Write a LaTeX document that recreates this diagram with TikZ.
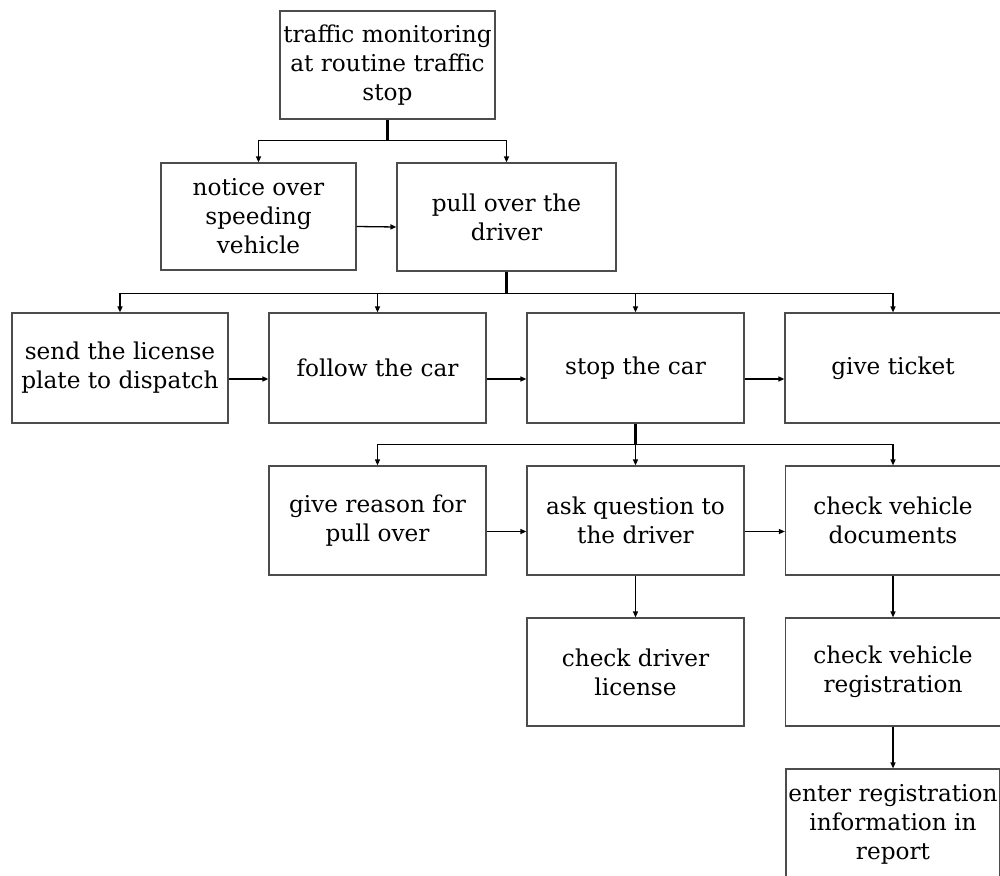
\documentclass[tikz,border=0pt]{standalone}
\usepackage{fontspec}
\setmainfont{DejaVu Serif}
\usetikzlibrary{arrows.meta,shadows}
\begin{document}
\begin{tikzpicture}[x=1pt,y=-1pt,
  font=\fontsize{23.2}{29}\selectfont,
  box/.style={draw=black!70, line width=1.2pt, fill=white, align=center,
    inner sep=2pt, minimum width=217pt, minimum height=109pt,
    drop shadow={shadow xshift=1.2pt, shadow yshift=-1.4pt, opacity=0.3, fill=black!70}},
  flow/.style={line width=1.3pt, -{Triangle[length=6pt,width=5pt]}},
  stub/.style={line width=2.8pt}]
\useasboundingbox (0,0) rectangle (1000,875);
\clip (0,0) rectangle (1000,875);

% boxes
\node[box, minimum width=215pt, minimum height=108pt] (top) at (387.5,65)
  {traffic monitoring\\at routine traffic\\stop};
\node[box, minimum width=195pt, minimum height=107pt] (notice) at (258.5,216.5)
  {notice over\\speeding\\vehicle};
\node[box, minimum width=219pt, minimum height=108pt] (pull) at (506.5,217)
  {pull over the\\driver};

\node[box, minimum width=216pt, minimum height=110pt] (send) at (120,368)
  {send the license\\plate to dispatch};
\node[box, minimum height=110pt] (follow) at (377.5,368) {follow the car};
\node[box, minimum height=110pt] (stop) at (635.5,368) {stop the car};
\node[box, minimum width=216pt, minimum height=110pt] (ticket) at (893,368) {give ticket};

\node[box] (reason) at (377.5,520.5) {give reason for\\pull over};
\node[box] (ask) at (635.5,520.5) {ask question to\\the driver};
\node[box, minimum width=215pt] (docs) at (893,520.5) {check vehicle\\documents};

\node[box, minimum height=108pt] (drvlic) at (635.5,672) {check driver\\license};
\node[box, minimum width=215pt, minimum height=108pt] (reg) at (893,672)
  {check vehicle\\registration};
\node[box, minimum width=214pt, minimum height=110pt] (enter) at (893,824)
  {enter registration\\information in\\report};

% branching from the first box
\path (top.south) ++(0,21) coordinate (j1);
\draw[stub] (top.south) -- (j1);
\draw[flow] (j1) -| (notice.north);
\draw[flow] (j1) -| (pull.north);
\draw[flow] ([yshift=-10pt]notice.east) -- ([yshift=-10pt]pull.west);

% branching from "pull over the driver"
\path (pull.south) ++(0,22) coordinate (j2);
\draw[stub] (pull.south) -- (j2);
\draw[flow] (j2) -| (send.north);
\draw[flow] (j2) -| (follow.north);
\draw[flow] (j2) -| (stop.north);
\draw[flow] (j2) -| (ticket.north);
\draw[flow] ([yshift=-11pt]send.east) -- ([yshift=-11pt]follow.west);
\draw[flow] ([yshift=-11pt]follow.east) -- ([yshift=-11pt]stop.west);
\draw[flow] ([yshift=-11pt]stop.east) -- ([yshift=-11pt]ticket.west);

% branching from "stop the car"
\path (stop.south) ++(0,21) coordinate (j3);
\draw[stub] (stop.south) -- (j3);
\draw[flow] (j3) -| (reason.north);
\draw[flow] (j3) -| (ask.north);
\draw[flow] (j3) -| (docs.north);
\draw[flow] ([yshift=-11pt]reason.east) -- ([yshift=-11pt]ask.west);
\draw[flow] ([yshift=-11pt]ask.east) -- ([yshift=-11pt]docs.west);

% checks
\draw[flow] (ask.south) -- (drvlic.north);
\draw[flow] (docs.south) -- (reg.north);
\draw[flow] (reg.south) -- (enter.north);
\end{tikzpicture}
\end{document}
